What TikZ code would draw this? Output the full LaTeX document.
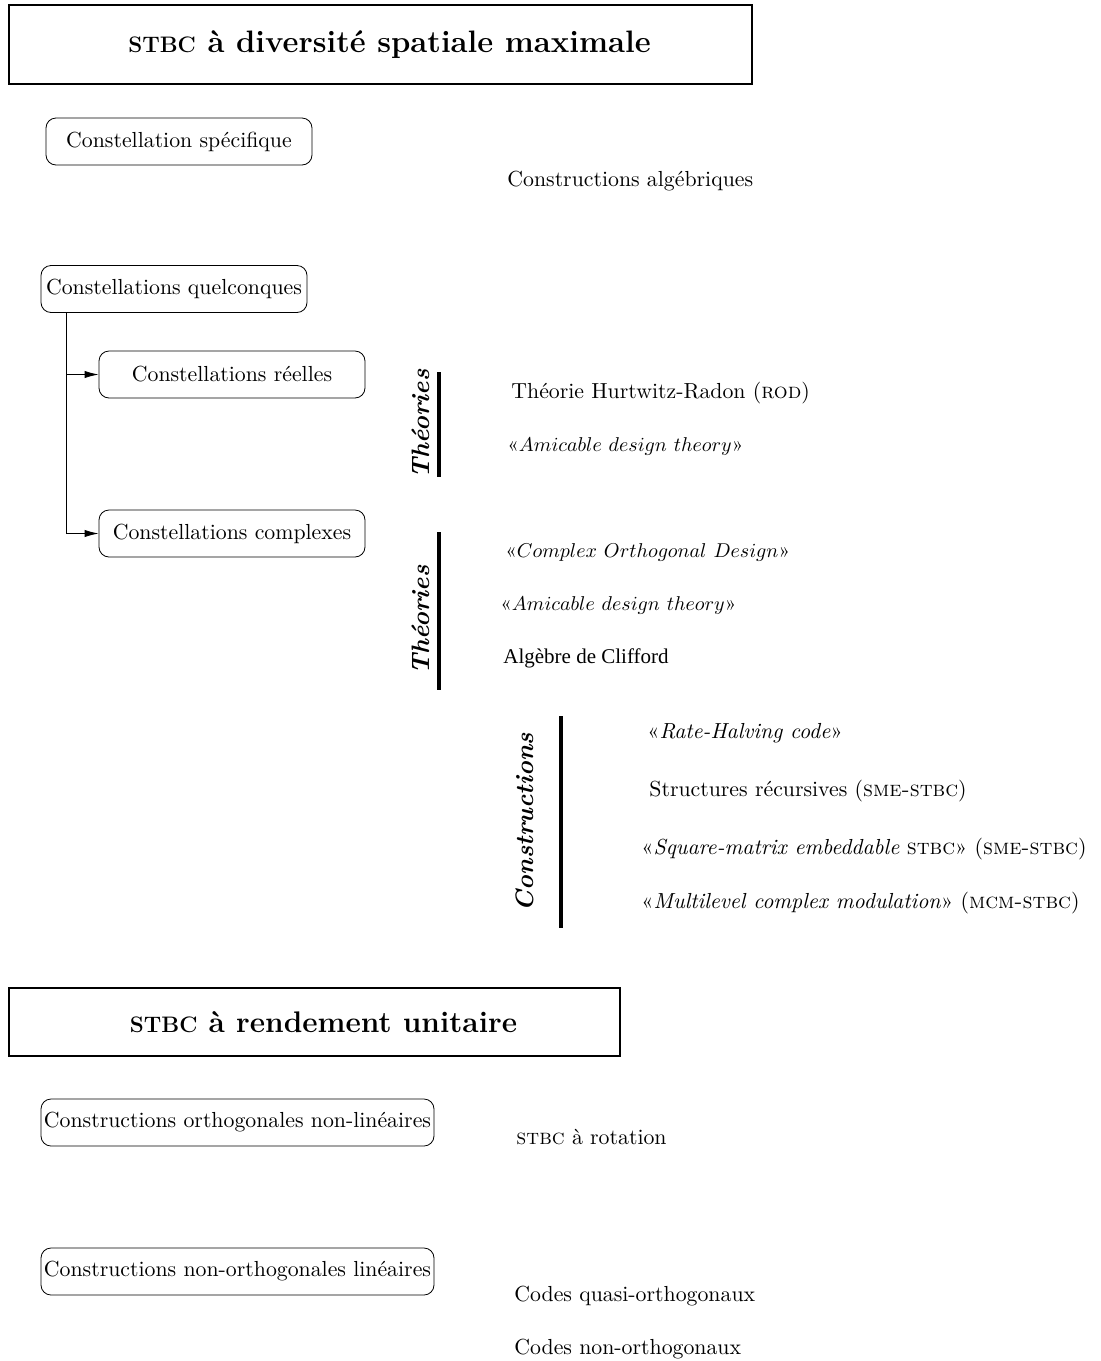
\documentclass[tikz,border=0pt]{standalone}
\usepackage{fontspec}
\newfontfamily\timesfont{Liberation Serif}
\usetikzlibrary{arrows.meta, positioning}

% sigle en petites capitales (aussi en gras)
\newcommand{\sigle}[1]{\textsc{#1}}
\newcommand{\bsigle}[1]{{\fontsize{11.2pt}{13pt}\selectfont #1}}
% titres en italique << mathematique >>
\newcommand{\titremath}[1]{{\fontsize{10.4pt}{13pt}\selectfont «$#1$»}}

\begin{document}
\begin{tikzpicture}[
  x=0.5pt, y=-0.5pt,
  every node/.style={font=\fontsize{10.9pt}{13pt}\selectfont},
  titre/.style={rectangle, draw, line width=0.9pt, inner sep=2pt},
  cadre/.style={rectangle, rounded corners=5pt, draw, thin,
                minimum width=133pt, minimum height=23.5pt,
                inner sep=1pt, text centered},
  item/.style={anchor=west, inner sep=0pt},
  axe/.style={rotate=90, font=\fontsize{12.6pt}{15pt}\selectfont\bfseries\itshape,
              inner sep=0pt},
  barre/.style={line width=1.6pt},
  arr/.style={-{Latex[length=7pt, width=3.6pt]}, thin},
]
\useasboundingbox (0,0) rectangle (1100,1361);

%% STBC a diversite spatiale maximale
\node[titre, minimum width=371.5pt, minimum height=39.5pt,
      font=\fontsize{15.5pt}{18pt}\selectfont\bfseries] (div) at (380.5,44.5)
  {\hspace*{9pt}\bsigle{STBC} à diversité spatiale maximale};

\node[cadre] (spec) at (179,141.5) {Constellation spécifique};
\node[item] (alg) at (507,181) {Constructions algébriques};

\node[cadre] (quel) at (174,289) {Constellations quelconques};
\node[cadre] (reel) at (232,374.5) {Constellations réelles};
\node[cadre] (cplx) at (232,533.5) {Constellations complexes};

\coordinate (tronc) at ([xshift=13pt]quel.south west);
\draw[arr] (tronc) |- (reel.west);
\draw[arr] (tronc) |- (cplx.west);

% theories (constellations reelles)
\node[axe] (th1) at (421,424) {Théories};
\coordinate (b1h) at (439,372);
\coordinate (b1b) at (439,477);
\draw[barre] (b1h) -- (b1b);
\node[item] (rod) at (511,393) {Théorie Hurtwitz-Radon (\sigle{rod})};
\node[item] (ami1) at (507,446) {\titremath{Amicable\ design\ theory}};

% theories (constellations complexes)
\node[axe] (th2) at (421,620) {Théories};
\coordinate (b2h) at (439,532);
\coordinate (b2b) at (439,690);
\draw[barre] (b2h) -- (b2b);
\node[item] (cod) at (505,552) {\titremath{Complex\ Orthogonal\ Design}};
\node[item] (ami2) at (500,605) {\titremath{Amicable\ design\ theory}};
\node[item] (cliff) at (503,658) {\timesfont\fontsize{10.5pt}{12pt}\selectfont Algèbre de Clifford};

% constructions
\node[axe] (cons) at (525,822) {Constructions};
\coordinate (b3h) at (561,716);
\coordinate (b3b) at (561,928);
\draw[barre] (b3h) -- (b3b);
\node[item] (rh)  at (647,733) {«\textit{Rate-Halving code}»};
\node[item] (rec) at (649,791) {Structures récursives (\sigle{sme-stbc})};
\node[item] (sme) at (641,849) {«\textit{Square-matrix embeddable} \sigle{stbc}» (\sigle{sme-stbc})};
\node[item] (mcm) at (641,903) {«\textit{Multilevel complex modulation}» (\sigle{mcm-stbc})};

%% STBC a rendement unitaire
\node[titre, minimum width=305.5pt, minimum height=34pt,
      font=\fontsize{14.9pt}{18pt}\selectfont\bfseries] (uni) at (314.5,1022)
  {\hspace*{9pt}\bsigle{STBC} à rendement unitaire};

\node[cadre, minimum width=196.5pt] (orth) at (237.5,1122.5) {Constructions orthogonales non-linéaires};
\node[item] (rot) at (516,1137) {\sigle{stbc} à rotation};

\node[cadre, minimum width=196.5pt] (nonorth) at (237.5,1271.5) {Constructions non-orthogonales linéaires};
\node[item] (quasi) at (514,1296) {Codes quasi-orthogonaux};
\node[item] (nono)  at (514,1349) {Codes non-orthogonaux};

\end{tikzpicture}
\end{document}
